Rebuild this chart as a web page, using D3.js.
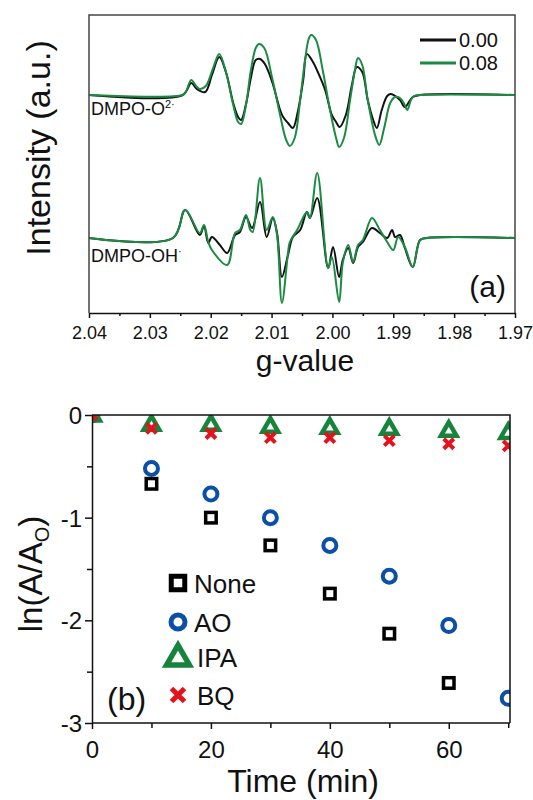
<!DOCTYPE html>
<html>
<head>
<meta charset="utf-8">
<script src="https://cdn.jsdelivr.net/npm/d3@7"></script>
<style>
  body { margin: 0; background: #fff; }
  text { font-family: Arial, 'Liberation Sans', sans-serif; fill: #111; }
</style>
</head>
<body>
<svg id="chart"></svg>
<script>
const width = 533;
const height = 800;

// ---- panel (a): EPR spectra, [g-value, intensity a.u.] ----
const gTicks = [2.04, 2.03, 2.02, 2.01, 2.00, 1.99, 1.98, 1.97];
const gMinor = [2.035, 2.025, 2.015, 2.005, 1.995, 1.985, 1.975];
const seriesA = ['0.00', '0.08'];
const colorsA = ['#111111', '#1b8a42'];

const o2Black = [[2.0400,218],[2.0246,218],[2.0232,230],[2.0223,224],[2.0209,221],[2.0198,238],[2.0186,256],[2.0175,241],[2.0163,210],[2.0155,196],[2.0150,193],[2.0142,209],[2.0134,235],[2.0126,253],[2.0119,254],[2.0111,249],[2.0099,231],[2.0086,203],[2.0081,196],[2.0073,190],[2.0065,185],[2.0057,201],[2.0048,233],[2.0042,259],[2.0032,251],[2.0024,241],[2.0012,223],[2.0001,198],[1.9994,191],[1.9988,186],[1.9978,198],[1.9968,228],[1.9960,246],[1.9951,241],[1.9942,213],[1.9933,193],[1.9927,185],[1.9919,203],[1.9910,217],[1.9904,219],[1.9889,213],[1.9881,206],[1.9868,216],[1.9856,218],[1.9700,218]];
const o2Green = [[2.0400,218],[2.0246,218],[2.0241,221],[2.0232,233],[2.0224,227],[2.0218,224],[2.0208,227],[2.0196,245],[2.0186,259],[2.0175,241],[2.0163,208],[2.0155,191],[2.0150,189],[2.0142,208],[2.0134,243],[2.0126,265],[2.0121,269],[2.0112,265],[2.0099,235],[2.0086,198],[2.0076,173],[2.0070,167],[2.0062,175],[2.0053,213],[2.0045,253],[2.0039,274],[2.0035,278],[2.0027,273],[2.0016,243],[2.0004,203],[1.9994,175],[1.9989,166],[1.9981,175],[1.9971,213],[1.9963,243],[1.9958,255],[1.9951,248],[1.9942,213],[1.9930,178],[1.9923,168],[1.9915,185],[1.9905,210],[1.9897,216],[1.9889,215],[1.9882,209],[1.9877,203],[1.9871,213],[1.9866,217],[1.9856,218],[1.9700,218]];
const ohBlack = [[2.0400,75],[2.0262,75],[2.0242,103],[2.0218,78],[2.0211,87],[2.0204,70],[2.0198,76],[2.0185,68],[2.0173,60],[2.0160,78],[2.0152,81],[2.0142,96],[2.0132,85],[2.0119,111],[2.0108,76],[2.0098,95],[2.0091,80],[2.0083,36],[2.0073,58],[2.0065,76],[2.0053,83],[2.0042,101],[2.0037,95],[2.0025,115],[2.0007,45],[1.9999,66],[1.9989,36],[1.9983,53],[1.9974,65],[1.9966,50],[1.9958,66],[1.9950,71],[1.9935,85],[1.9922,80],[1.9910,75],[1.9902,83],[1.9897,76],[1.9889,78],[1.9881,65],[1.9868,46],[1.9856,73],[1.9845,75],[1.9700,75]];
const ohGreen = [[2.0400,75],[2.0262,75],[2.0242,103],[2.0218,80],[2.0211,88],[2.0204,71],[2.0198,63],[2.0173,48],[2.0160,80],[2.0152,83],[2.0142,98],[2.0135,83],[2.0131,81],[2.0119,135],[2.0108,83],[2.0098,96],[2.0091,78],[2.0083,10],[2.0073,60],[2.0070,71],[2.0058,83],[2.0042,101],[2.0037,95],[2.0025,140],[2.0007,45],[2.0001,56],[1.9989,11],[1.9983,50],[1.9974,68],[1.9966,51],[1.9958,68],[1.9950,73],[1.9935,95],[1.9922,83],[1.9910,71],[1.9900,63],[1.9892,76],[1.9881,66],[1.9868,46],[1.9856,73],[1.9845,75],[1.9700,75]];

// ---- panel (b): kinetics ----
const times = [0, 10, 20, 30, 40, 50, 60, 70];
const scavengers = ['None', 'AO', 'IPA', 'BQ'];
const noneVals = [0, -0.67, -1.00, -1.27, -1.74, -2.13, -2.61, null];
const aoVals = [0, -0.52, -0.77, -1.00, -1.27, -1.57, -2.05, -2.76];
const ipaVals = [0, -0.09, -0.09, -0.11, -0.12, -0.13, -0.15, -0.17];
const bqVals = [0, -0.13, -0.18, -0.22, -0.22, -0.25, -0.28, -0.30];
const timeTicks = [0, 20, 40, 60];
const timeMinor = [10, 30, 50, 70];
const lnTicks = [0, -1, -2, -3];
const lnMinor = [-0.5, -1.5, -2.5];
const colorsB = ['#000000', '#0b4fa6', '#17843c', '#e3121b'];

const svg = d3.select('#chart').attr('width', width).attr('height', height);

// ================= panel (a) =================
const ax = {left: 89, right: 515, top: 15, bottom: 313};
const gx = d3.scaleLinear().domain([2.04, 1.97]).range([ax.left, ax.right]);
const iy = d3.scaleLinear().domain([0, 298]).range([ax.bottom, ax.top]);

const line = d3.line().x(d => gx(d[0])).y(d => iy(d[1])).curve(d3.curveCatmullRom.alpha(0.5));

[[o2Black, 0], [o2Green, 1], [ohBlack, 0], [ohGreen, 1]].forEach(([d, i]) => {
    svg.append('path').datum(d)
        .attr('d', line)
        .attr('fill', 'none')
        .attr('stroke', colorsA[i])
        .attr('stroke-width', 2)
        .attr('stroke-linejoin', 'round');
});

// frame
svg.append('path')
    .attr('d', `M${ax.left},${ax.bottom}V${ax.top}H${ax.right}V${ax.bottom}`)
    .attr('fill', 'none').attr('stroke', '#444').attr('stroke-width', 1.5);

const gAxis = svg.append('g').attr('transform', `translate(0,${ax.bottom})`)
    .call(d3.axisBottom(gx).tickValues(gTicks).tickFormat(d3.format('.2f')).tickSize(5).tickSizeOuter(0));
svg.append('g').attr('transform', `translate(0,${ax.bottom})`)
    .call(d3.axisBottom(gx).tickValues(gMinor).tickFormat('').tickSize(3).tickSizeOuter(0))
    .select('.domain').remove();
gAxis.selectAll('text').attr('y', 26).attr('dy', 0).style('font-size', '18px')
    .style('font-family', 'Arial, Liberation Sans, sans-serif').attr('fill', '#111');
svg.selectAll('.domain, .tick line').attr('stroke', '#111').attr('stroke-width', 1.5);

svg.append('text').attr('x', 305).attr('y', 371).attr('text-anchor', 'middle')
    .style('font-size', '30px').text('g-value');
svg.append('text').attr('transform', `translate(50,148) rotate(-90)`).attr('text-anchor', 'middle')
    .style('font-size', '34px').text('Intensity (a.u.)');

// legend (a)
seriesA.forEach((s, i) => {
    const y = 40 + i * 23;
    svg.append('line').attr('x1', 420).attr('x2', 456).attr('y1', y).attr('y2', y)
        .attr('stroke', colorsA[i]).attr('stroke-width', 3);
    svg.append('text').attr('x', 459).attr('y', y + 7).style('font-size', '20px').text(s);
});

const lab1 = svg.append('text').attr('x', 91).attr('y', 115).style('font-size', '18px').text('DMPO-O');
lab1.append('tspan').attr('dy', -7).style('font-size', '11px').text('2·');
const lab2 = svg.append('text').attr('x', 91).attr('y', 262).style('font-size', '18px').text('DMPO-OH');
lab2.append('tspan').attr('dy', -7).style('font-size', '11px').text('·');

svg.append('text').attr('x', 506).attr('y', 297).attr('text-anchor', 'end')
    .style('font-size', '30px').text('(a)');

// ================= panel (b) =================
const bx = {left: 92, right: 510, top: 415, bottom: 723};
const tx = d3.scaleLinear().domain([0, 70.3]).range([bx.left, bx.right]);
const ly = d3.scaleLinear().domain([-3, 0]).range([bx.bottom, bx.top]);

svg.append('clipPath').attr('id', 'clipB').append('rect')
    .attr('x', bx.left).attr('y', bx.top).attr('width', bx.right - bx.left).attr('height', bx.bottom - bx.top);

const markers = {
    None: {draw: (g, s) => g.append('rect').attr('x', -s.a / 2).attr('y', -s.a / 2).attr('width', s.a).attr('height', s.a)
        .attr('fill', 'none').attr('stroke', colorsB[0]).attr('stroke-width', s.w)},
    AO: {draw: (g, s) => g.append('circle').attr('r', s.a / 2)
        .attr('fill', 'none').attr('stroke', colorsB[1]).attr('stroke-width', s.w)},
    IPA: {draw: (g, s) => g.append('path')
        .attr('d', `M0,${-s.a * 0.62}L${s.a * 0.6},${s.a * 0.42}L${-s.a * 0.6},${s.a * 0.42}Z`)
        .attr('fill', 'none').attr('stroke', colorsB[2]).attr('stroke-width', s.w).attr('stroke-linejoin', 'miter')},
    BQ: {draw: (g, s) => g.append('path')
        .attr('d', `M${-s.a / 2},${-s.a / 2}L${s.a / 2},${s.a / 2}M${s.a / 2},${-s.a / 2}L${-s.a / 2},${s.a / 2}`)
        .attr('fill', 'none').attr('stroke', colorsB[3]).attr('stroke-width', s.w)}
};
const dataSize = {None: {a: 10.5, w: 3.5}, AO: {a: 13, w: 4}, IPA: {a: 13, w: 4.5}, BQ: {a: 10, w: 4}};
const legSize = {None: {a: 13.5, w: 5}, AO: {a: 14, w: 5}, IPA: {a: 19, w: 5.5}, BQ: {a: 13, w: 5}};

const plotB = svg.append('g').attr('clip-path', 'url(#clipB)');
[[noneVals, 'None'], [aoVals, 'AO'], [ipaVals, 'IPA'], [bqVals, 'BQ']].forEach(([vals, name]) => {
    const pts = times.map((t, i) => [t, vals[i]]).filter(d => d[1] !== null);
    plotB.selectAll(null).data(pts).enter().append('g')
        .attr('transform', d => `translate(${tx(d[0])},${ly(d[1])})`)
        .each(function () { markers[name].draw(d3.select(this), dataSize[name]); });
});

// frame (b)
svg.append('path')
    .attr('d', `M${bx.left},${bx.top}H${bx.right}V${bx.bottom}`)
    .attr('fill', 'none').attr('stroke', '#111').attr('stroke-width', 1.5);

const xAxisB = svg.append('g').attr('transform', `translate(0,${bx.bottom})`)
    .call(d3.axisBottom(tx).tickValues(timeTicks).tickSize(6).tickSizeOuter(0));
svg.append('g').attr('transform', `translate(0,${bx.bottom})`)
    .call(d3.axisBottom(tx).tickValues(timeMinor).tickFormat('').tickSize(5).tickSizeOuter(0))
    .select('.domain').remove();
xAxisB.selectAll('text').attr('y', 35).attr('dy', 0).style('font-size', '24px')
    .style('font-family', 'Arial, Liberation Sans, sans-serif').attr('fill', '#111');
xAxisB.select('.domain').attr('d', `M${bx.left},0H${bx.right}`);

const yAxisB = svg.append('g').attr('transform', `translate(${bx.left},0)`)
    .call(d3.axisLeft(ly).tickValues(lnTicks).tickFormat(d3.format('d')).tickSize(7).tickSizeOuter(0));
svg.append('g').attr('transform', `translate(${bx.left},0)`)
    .call(d3.axisLeft(ly).tickValues(lnMinor).tickFormat('').tickSize(5).tickSizeOuter(0))
    .select('.domain').remove();
yAxisB.selectAll('text').attr('x', -10).attr('dy', '0.35em').style('font-size', '24px')
    .style('font-family', 'Arial, Liberation Sans, sans-serif').attr('fill', '#111')
    .text(d => d === 0 ? '0' : String(d).replace('−', '-'));
svg.selectAll('.domain, .tick line').attr('stroke', '#111').attr('stroke-width', 1.5);

svg.append('text').attr('x', 303).attr('y', 792).attr('text-anchor', 'middle')
    .style('font-size', '32px').text('Time (min)');
const yl = svg.append('text').attr('transform', `translate(42,574) rotate(-90)`).attr('text-anchor', 'middle')
    .style('font-size', '33px').text('ln(A/A');
yl.append('tspan').attr('dy', 7).style('font-size', '20px').text('O');
yl.append('tspan').attr('dy', -7).text(')');

// legend (b)
const legY = [583, 622, 657, 695];
const legTextX = [194, 194, 197, 197];
scavengers.forEach((name, i) => {
    const g = svg.append('g').attr('transform', `translate(178,${legY[i]})`);
    markers[name].draw(g, legSize[name]);
    svg.append('text').attr('x', legTextX[i]).attr('y', legY[i] + 10).style('font-size', '26px').text(name);
});

svg.append('text').attr('x', 107).attr('y', 710).style('font-size', '32px').text('(b)');
</script>
</body>
</html>
